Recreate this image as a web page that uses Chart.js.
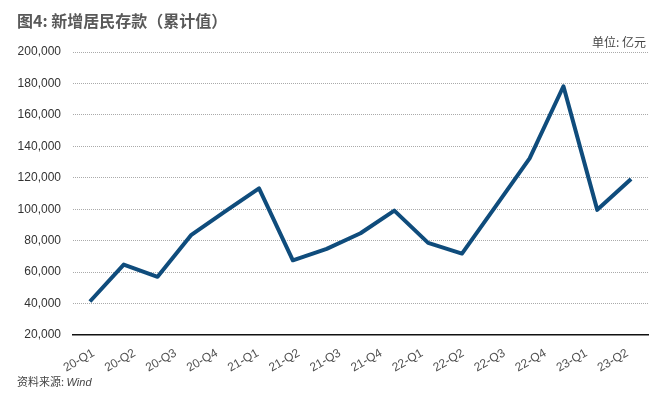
<!DOCTYPE html>
<html>
<head>
<meta charset="utf-8">
<script src="https://cdn.jsdelivr.net/npm/chart.js@4.4.0/dist/chart.umd.min.js"></script>
<style>
  html, body { margin: 0; padding: 0; background: #fff; }
  #wrap { position: relative; width: 666px; height: 394px; overflow: hidden; font-family: "Liberation Sans", Arial, "Noto Sans CJK SC", sans-serif; }
  #chart { position: absolute; left: 0; top: 0; }
  .title { position: absolute; left: 17px; top: 12px; font-size: 16px; line-height: 16px; font-weight: bold; color: #595959; font-family: "Noto Sans CJK SC", sans-serif; white-space: nowrap; }
  .unit { position: absolute; right: 20px; top: 35px; font-size: 12px; line-height: 14px; color: #444; font-family: "Noto Sans CJK SC", sans-serif; }
  .source { position: absolute; left: 17px; top: 375px; font-size: 11px; line-height: 13px; color: #444; font-family: "Noto Sans CJK SC", sans-serif; }
  .source i { font-family: "Liberation Sans", Arial, sans-serif; }
</style>
</head>
<body>
<div id="wrap">
  <canvas id="chart" width="666" height="394"></canvas>
  <div class="title">图4: 新增居民存款（累计值）</div>
  <div class="unit">单位: 亿元</div>
  <div class="source">资料来源: <i>Wind</i></div>
</div>
<script>
// tick labels shown under the axis
const quarters = ['20-Q1', '20-Q2', '20-Q3', '20-Q4', '21-Q1', '21-Q2', '21-Q3',
                  '21-Q4', '22-Q1', '22-Q2', '22-Q3', '22-Q4', '23-Q1', '23-Q2'];

// the line itself has more vertices than there are tick labels
const periods = ['1', '2', '3', '4', '5', '6', '7', '8', '9',
                 '10', '11', '12', '13', '14', '15', '16', '17'];

// 新增居民存款（累计值）, 亿元
const deposits = [41300, 64800, 57000, 83700, 98600, 113300, 67500, 74800, 84700,
                  99100, 78600, 71800, 102000, 132300, 178200, 99600, 119200];

const yTicks = { min: 20000, max: 200000, step: 20000 };

document.addEventListener('DOMContentLoaded', function() {
  Chart.defaults.font.family = '"Liberation Sans", Arial, sans-serif';

  const ctx = document.getElementById('chart').getContext('2d');

  new Chart(ctx, {
    type: 'line',
    data: {
      labels: periods,
      datasets: [{
        data: deposits,
        borderColor: '#0f4c7c',
        borderWidth: 4,
        borderJoinStyle: 'round',
        pointRadius: 0,
        tension: 0,
        fill: false,
        xAxisID: 'x',
        yAxisID: 'y'
      }]
    },
    options: {
      responsive: false,
      animation: false,
      layout: { padding: { top: 52, right: 18, bottom: 14, left: 0 } },
      plugins: {
        legend: { display: false },
        tooltip: { enabled: false }
      },
      scales: {
        x: {
          type: 'category',
          display: false,
          offset: true
        },
        x2: {
          type: 'category',
          labels: quarters,
          position: 'bottom',
          offset: true,
          grid: { display: false },
          border: { display: true, color: '#111', width: 1.5 },
          ticks: {
            autoSkip: false,
            minRotation: 30,
            maxRotation: 30,
            padding: 3,
            color: '#505050',
            font: { size: 12 }
          },
          afterFit: function(scale) { scale.height = 45; }
        },
        y: {
          min: yTicks.min,
          max: yTicks.max,
          ticks: {
            stepSize: yTicks.step,
            padding: 12,
            color: '#333',
            font: { size: 12 },
            callback: function(v) { return v.toLocaleString('en-US'); }
          },
          grid: {
            drawTicks: false,
            lineWidth: 1,
            color: function(c) { return c.tick && c.tick.value === yTicks.min ? 'rgba(0,0,0,0)' : '#aaaaaa'; }
          },
          border: { display: false, dash: [1, 1] },
          afterFit: function(scale) { scale.width = 73; }
        }
      }
    }
  });
});
</script>
</body>
</html>
